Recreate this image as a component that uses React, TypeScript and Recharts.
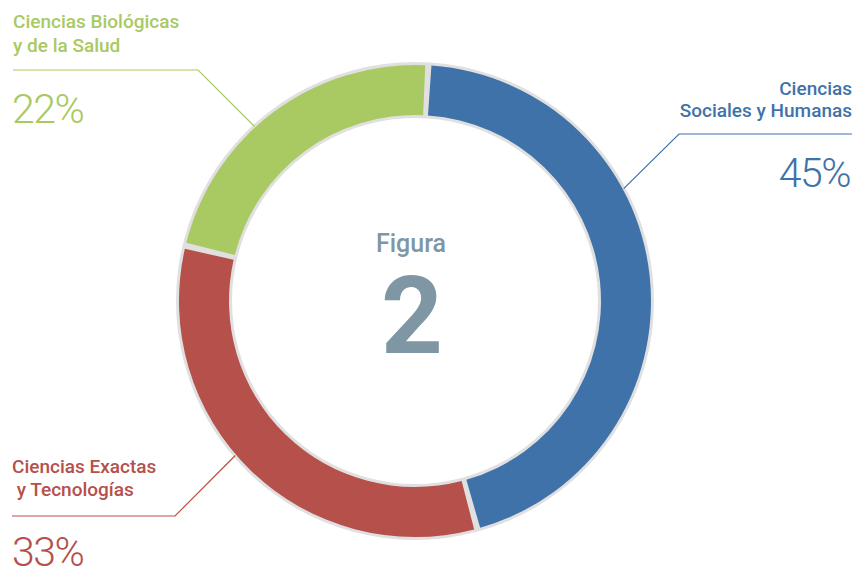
import React from "react";
import { PieChart, Pie, Cell } from "recharts";

// areas and their share (%)
const areas = ["Ciencias Sociales y Humanas", "Ciencias Exactas y Tecnologías", "Ciencias Biológicas y de la Salud"];
const shares = [45, 33, 22];
const labelLines = [
  ["Ciencias", "Sociales y Humanas"],
  ["Ciencias Exactas", " y Tecnologías"],
  ["Ciencias Biológicas", "y de la Salud"],
];
const colors = ["#3f72a9", "#b5504a", "#a9c963"];

const data = areas.map((name, i) => ({ name, value: shares[i] }));

const RAD = Math.PI / 180;
const FONT = "Roboto, 'DejaVu Sans', sans-serif";

// where each callout sits (text + leader line)
const callouts = [
  { anchor: "end", x: 852, t1: 95, t2: 117, pctY: 187, pctX: 850, lineY: 134, elbow: 679, edge: 852, angle: 28.3 },
  { anchor: "start", x: 12, t1: 473, t2: 496, pctY: 566, pctX: 12, lineY: 516, elbow: 175, edge: 12, angle: 220.7 },
  { anchor: "start", x: 13, t1: 28, t2: 52, pctY: 123, pctX: 12, lineY: 70, elbow: 198, edge: 13, angle: 132.6 },
];

const renderCallout = (props: any) => {
  const { cx, cy, outerRadius, index } = props;
  const c = callouts[index];
  const col = colors[index];
  const px = cx + (outerRadius + 1) * Math.cos(c.angle * RAD);
  const py = cy - (outerRadius + 1) * Math.sin(c.angle * RAD);
  return (
    <g key={"co" + index}>
      <polyline
        points={`${c.edge},${c.lineY} ${c.elbow},${c.lineY} ${px},${py}`}
        fill="none"
        stroke={col}
        strokeWidth={1.2}
      />
      <text x={c.x} y={c.t1} textAnchor={c.anchor} fill={col} fontSize={19} fontWeight={500} fontFamily={FONT}>
        {labelLines[index][0]}
      </text>
      <text x={c.x} y={c.t2} textAnchor={c.anchor} fill={col} fontSize={19} fontWeight={500} fontFamily={FONT} style={{ whiteSpace: "pre" }}>
        {labelLines[index][1]}
      </text>
      <text x={c.pctX} y={c.pctY} textAnchor={c.anchor} fill={col} fontSize={41} fontWeight={300} letterSpacing={-1.5} fontFamily={FONT}>
        {shares[index]}%
      </text>
    </g>
  );
};

const renderCenter = (props: any) => {
  const { cx, cy } = props;
  return (
    <g key="center">
      <text x={cx - 4} y={cy - 49} textAnchor="middle" fill="#7f97a5" fontSize={25} fontWeight={500} fontFamily={FONT}>
        Figura
      </text>
      <text x={cx - 3} y={cy + 52} textAnchor="middle" fill="#7f97a5" fontSize={108} fontWeight={700} fontFamily={FONT}>
        2
      </text>
    </g>
  );
};

export default function App() {
  return (
    <div style={{ position: "absolute", left: 0, top: 0, background: "#fff" }}>
      <PieChart width={856} height={571} margin={{ top: 0, right: 0, bottom: 0, left: 0 }}>
        <Pie
          data={[{ name: "bg", value: 1 }]}
          dataKey="value"
          cx={415}
          cy={301}
          innerRadius={183}
          outerRadius={239}
          startAngle={90}
          endAngle={-270}
          fill="#e0e0e0"
          stroke="none"
          label={renderCenter}
          labelLine={false}
          isAnimationActive={false}
        />
        <Pie
          data={data}
          dataKey="value"
          cx={415}
          cy={301}
          innerRadius={186}
          outerRadius={236}
          startAngle={86}
          endAngle={-274}
          paddingAngle={1.5}
          stroke="none"
          label={renderCallout}
          labelLine={false}
          isAnimationActive={false}
        >
          {data.map((d, i) => (
            <Cell key={d.name} fill={colors[i]} />
          ))}
        </Pie>
      </PieChart>
    </div>
  );
}
